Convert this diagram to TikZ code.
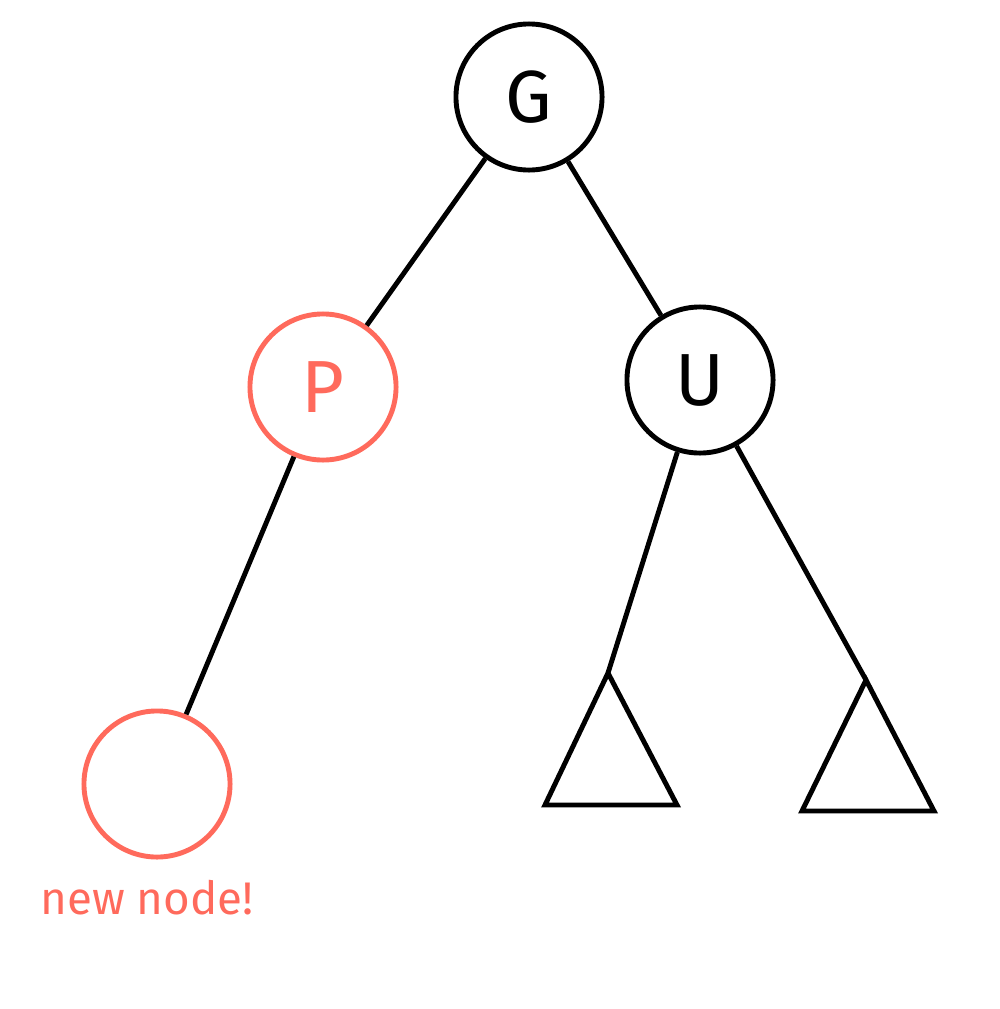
\documentclass[tikz,border=0pt]{standalone}
\usepackage{fontspec}
\setmainfont{Fira Sans}
\usepackage{tikz}
\usetikzlibrary{
  positioning,
  calc
}
\definecolor{rbInk}{HTML}{000000}
\definecolor{rbNew}{HTML}{FF6A5C}
\tikzset{
  treenode/.style={
    draw, circle, minimum size=1.46cm, inner sep=0pt, line width=1.4pt,
    font=\fontsize{21}{25}\selectfont
  },
  oldnode/.style={treenode, draw=rbInk, text=rbInk},
  newnode/.style={treenode, draw=rbNew, text=rbNew},
  edge/.style={line width=1.4pt, rbInk},
  subtree/.style={line width=1.4pt, rbInk, line join=miter},
  tag/.style={font=\fontsize{13}{15}\selectfont, text=rbNew, inner sep=1pt}
}

\begin{document}
\begin{tikzpicture}[x=0.01cm, y=-0.01cm]
  \useasboundingbox (0,0) rectangle (1000,1009);
  \node[oldnode] (g) at (529,97) {G};
  \node[newnode] (p) at (323,387) {P};
  \node[oldnode] (u) at (700,380) {U};
  \node[newnode] (n) at (157,784) {};
  \node[tag, below=1.6mm of n, xshift=-0.1cm] (lbl) {new node!};
  % subtrees under the uncle
  \coordinate (ta) at (608,673);
  \coordinate (tb) at (866,680);
  \draw[subtree] (ta) -- ++(-63,132) -- ++(132,0) -- cycle;
  \draw[subtree] (tb) -- ++(-64,131) -- ++(132,0) -- cycle;
  \draw[edge] (g) -- (p);
  \draw[edge] (g) -- (u);
  \draw[edge] (p) -- (n);
  \draw[edge] (u) -- (ta);
  \draw[edge] (u) -- (tb);
\end{tikzpicture}
\end{document}
